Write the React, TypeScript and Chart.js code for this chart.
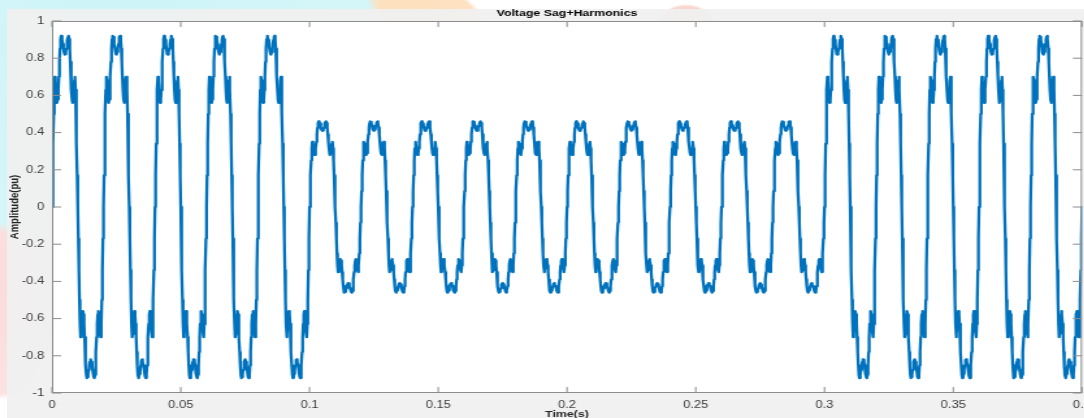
import React, { useEffect, useRef } from "react";
import { Chart, registerables } from "chart.js";

Chart.register(...registerables);

// 50 Hz fundamental
const PERIOD_S = 0.02;

// Distorted waveform at nominal voltage over the first quarter cycle
// (phase in degrees, amplitude in pu); the rest of the cycle is symmetric.
const QUARTER_PHASE_DEG = [0, 4, 8, 12, 16, 20, 24, 28, 32, 36, 40, 44, 48, 52, 56, 60, 64, 68, 72, 76, 80, 84, 88, 90];
const QUARTER_AMPLITUDE = [0, 0.17, 0.34, 0.5, 0.63, 0.7, 0.68, 0.63, 0.58, 0.56, 0.578, 0.628, 0.7, 0.78, 0.852, 0.902, 0.92, 0.914, 0.898, 0.876, 0.852, 0.833, 0.821, 0.82];

// Voltage level of each cycle (pu): sag between 0.1 s and 0.3 s
const CYCLE_LEVEL = [1, 1, 1, 1, 1, 0.5, 0.5, 0.5, 0.5, 0.5, 0.5, 0.5, 0.5, 0.5, 0.5, 1, 1, 1, 1, 1];

const X_TICKS = [0, 0.05, 0.1, 0.15, 0.2, 0.25, 0.3, 0.35, 0.4];
const X_TICK_LABELS = ["0", "0.05", "0.1", "0.15", "0.2", "0.25", "0.3", "0.35", "0.4"];
const Y_TICKS = [-1, -0.8, -0.6, -0.4, -0.2, 0, 0.2, 0.4, 0.6, 0.8, 1];
const Y_TICK_LABELS = ["-1", "-0.8", "-0.6", "-0.4", "-0.2", "0", "0.2", "0.4", "0.6", "0.8", "1"];

const TITLE = "Voltage Sag+Harmonics";
const X_TITLE = "Time(s)";
const Y_TITLE = "Amplitude(pu)";

// The figure is drawn narrow and widened horizontally.
const STRETCH_X = 1.3;
const CANVAS_W = 850;
const CANVAS_H = 424;
const FONT = "'Liberation Sans', Arial, Helvetica, sans-serif";

function buildSeries() {
  // one full cycle from the quarter-cycle table
  const half: [number, number][] = [];
  for (let i = 0; i < QUARTER_PHASE_DEG.length; i++) half.push([QUARTER_PHASE_DEG[i], QUARTER_AMPLITUDE[i]]);
  for (let i = QUARTER_PHASE_DEG.length - 2; i >= 0; i--) half.push([180 - QUARTER_PHASE_DEG[i], QUARTER_AMPLITUDE[i]]);
  const cycle: [number, number][] = [...half];
  for (let i = 1; i < half.length; i++) cycle.push([180 + half[i][0], -half[i][1]]);

  const pts: { x: number; y: number }[] = [];
  CYCLE_LEVEL.forEach((level, k) => {
    for (const [ph, a] of cycle) {
      if (ph >= 360) continue;
      pts.push({ x: (k + ph / 360) * PERIOD_S, y: level * a });
    }
  });
  pts.push({ x: CYCLE_LEVEL.length * PERIOD_S, y: 0 });
  return pts;
}

const axesFrame = {
  id: "axesFrame",
  beforeDraw(chart: any) {
    const { ctx, chartArea: a } = chart;
    ctx.save();
    ctx.fillStyle = "#ffffff";
    ctx.fillRect(a.left, a.top, a.right - a.left, a.bottom - a.top);
    ctx.restore();
  },
  afterDatasetsDraw(chart: any) {
    const { ctx, chartArea: a, scales } = chart;
    ctx.save();
    ctx.strokeStyle = "#8c8c8c";
    ctx.lineWidth = 1;
    ctx.beginPath();
    ctx.rect(a.left + 0.5, a.top + 0.5, a.right - a.left - 1, a.bottom - a.top - 1);
    for (const v of X_TICKS) {
      const px = scales.x.getPixelForValue(v);
      ctx.moveTo(px, a.top);
      ctx.lineTo(px, a.top + 6);
      ctx.moveTo(px, a.bottom);
      ctx.lineTo(px, a.bottom - 6);
    }
    for (const v of Y_TICKS) {
      const py = scales.y.getPixelForValue(v);
      ctx.moveTo(a.left, py);
      ctx.lineTo(a.left + 7, py);
      ctx.moveTo(a.right, py);
      ctx.lineTo(a.right - 7, py);
    }
    ctx.stroke();
    ctx.restore();
  },
};

export default function App() {
  const ref = useRef<HTMLCanvasElement | null>(null);

  useEffect(() => {
    if (!ref.current) return;
    const chartRight = 1082 / STRETCH_X;
    const chartLeft = 52 / STRETCH_X;
    const chart = new Chart(ref.current, {
      type: "line",
      data: {
        datasets: [
          {
            data: buildSeries(),
            borderColor: "#0072BD",
            borderWidth: 2.3,
            pointRadius: 0,
            tension: 0,
            borderJoinStyle: "round",
            borderCapStyle: "round",
          },
        ],
      },
      options: {
        animation: false,
        responsive: false,
        devicePixelRatio: 1,
        parsing: false,
        layout: { padding: { left: 0, right: CANVAS_W - chartRight, top: 0, bottom: 0 } },
        plugins: {
          legend: { display: false },
          tooltip: { enabled: false },
          title: {
            display: true,
            text: TITLE,
            fullSize: false,
            color: "#000000",
            font: { family: FONT, size: 9.5, weight: "bold", lineHeight: 1.2 },
            padding: { top: 8, bottom: 1.6 },
          },
        },
        scales: {
          x: {
            type: "linear",
            min: 0,
            max: 0.4,
            grid: { display: false, drawTicks: false },
            border: { display: false },
            afterFit: (s: any) => {
              s.height = CANVAS_H - 393;
            },
            afterBuildTicks: (s: any) => {
              s.ticks = X_TICKS.map((v) => ({ value: v }));
            },
            ticks: {
              autoSkip: false,
              maxRotation: 0,
              padding: 6,
              color: "#3c3c3c",
              font: { family: FONT, size: 10, lineHeight: 1.2 },
              callback: (v: any) => X_TICK_LABELS[X_TICKS.indexOf(Number(v))] ?? "",
            },
            title: {
              display: true,
              text: X_TITLE,
              color: "#262626",
              font: { family: FONT, size: 9.5, weight: "bold", lineHeight: 1.2 },
              padding: { top: 0, bottom: 4.3 },
            },
          },
          y: {
            type: "linear",
            min: -1,
            max: 1,
            grid: { display: false, drawTicks: false },
            border: { display: false },
            afterFit: (s: any) => {
              s.width = chartLeft;
            },
            afterBuildTicks: (s: any) => {
              s.ticks = Y_TICKS.map((v) => ({ value: v }));
            },
            ticks: {
              autoSkip: false,
              padding: 6,
              color: "#3c3c3c",
              font: { family: FONT, size: 10, lineHeight: 1.2 },
              callback: (v: any) => Y_TICK_LABELS[Y_TICKS.indexOf(Number(v))] ?? "",
            },
            title: {
              display: true,
              text: Y_TITLE,
              color: "#262626",
              font: { family: FONT, size: 9.5, weight: "bold", lineHeight: 1.2 },
              padding: { top: 6, bottom: 0 },
            },
          },
        },
      },
      plugins: [axesFrame],
    });
    return () => chart.destroy();
  }, []);

  return (
    <div
      style={{
        position: "fixed",
        left: 0,
        top: 0,
        width: 1084,
        height: 418,
        overflow: "hidden",
        background: [
          "radial-gradient(ellipse 262px 215px at 120px 40px, #cdf4f8 0%, #d5f6f9 96%, rgba(255,255,255,0) 100%)",
          "radial-gradient(ellipse 80px 60px at 410px 40px, #fcdcb6 0%, #fde2c2 94%, rgba(255,255,255,0) 100%)",
          "radial-gradient(ellipse 34px 30px at 686px 34px, #f8cfc6 0%, #f9d6cf 92%, rgba(255,255,255,0) 100%)",
          "radial-gradient(ellipse 60px 110px at 0px 290px, #fadcdc 0%, #fbe2e2 94%, rgba(255,255,255,0) 100%)",
          "#ffffff",
        ].join(", "),
      }}
    >
      <div
        style={{
          position: "absolute",
          left: 7,
          top: 9,
          width: 1100,
          height: 420,
          background: "rgba(240,240,240,0.94)",
        }}
      />
      <div
        style={{
          position: "absolute",
          left: 0,
          top: 0,
          width: CANVAS_W,
          height: CANVAS_H,
          transform: `scaleX(${STRETCH_X})`,
          transformOrigin: "0 0",
        }}
      >
        <canvas ref={ref} width={CANVAS_W} height={CANVAS_H} style={{ display: "block" }} />
      </div>
    </div>
  );
}
